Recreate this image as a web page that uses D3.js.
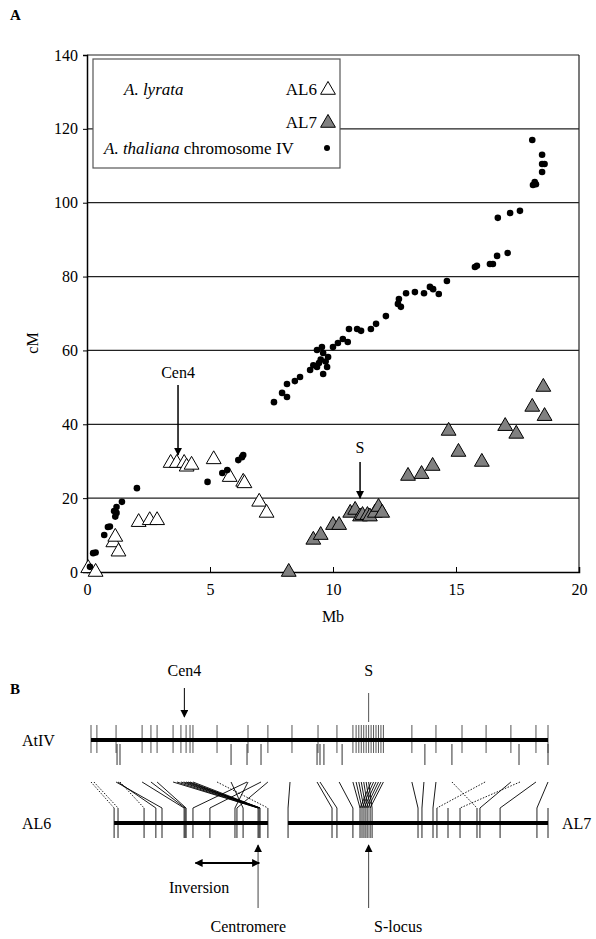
<!DOCTYPE html>
<html>
<head>
<meta charset="utf-8">
<script src="https://cdn.jsdelivr.net/npm/d3@7"></script>
<style>
  body { margin: 0; background: #fff; }
  text { font-family: "Liberation Serif", "Times New Roman", serif; fill: #000; }
</style>
</head>
<body>
<div id="fig"></div>
<script>
// ---- panel A data: [Mb, cM] ----
const thaliana = [
  [0.12, 1.4], [0.25, 5.1], [0.35, 5.3], [0.7, 10], [0.85, 12.2], [0.93, 12.3],
  [1.1, 16.5], [1.15, 15], [1.2, 16], [1.2, 17.6], [1.42, 19], [2.03, 22.7],
  [4.9, 24.4], [5.5, 26.8], [5.7, 27.6], [6.15, 30.3], [6.3, 31.1], [6.35, 31.7],
  [7.6, 46], [7.93, 48.5], [8.13, 47.4], [8.13, 50.9], [8.45, 51.7], [8.66, 52.8],
  [9.07, 54.7], [9.2, 56], [9.35, 55.5], [9.43, 56.6], [9.6, 53.6], [9.76, 55.5],
  [9.8, 58.2], [9.6, 59.3], [9.35, 60.1], [9.55, 60.9], [9.7, 57], [9.5, 57.5],
  [10.0, 60.9], [10.2, 62], [10.4, 63.1], [10.6, 62.3], [10.65, 65.8], [10.98, 65.8],
  [11.14, 65.3], [11.54, 65.8], [11.75, 67.2], [12.15, 69.3], [12.64, 72.6],
  [12.76, 71.8], [12.68, 73.9], [12.97, 75.5], [13.33, 75.8], [13.7, 75.5],
  [13.94, 77.2], [14.07, 76.6], [14.3, 75.3], [14.63, 78.8], [15.77, 82.6],
  [15.85, 82.9], [16.38, 83.4], [16.5, 83.4], [16.67, 85.6], [17.1, 86.4],
  [16.7, 95.9], [17.2, 97.2], [17.6, 97.8], [18.13, 104.8], [18.25, 105],
  [18.2, 105.6], [18.5, 108.3], [18.5, 110.5], [18.6, 110.5], [18.5, 113], [18.1, 117]
];
const al6 = [
  [0.05, 1], [0.35, 0], [1.07, 8], [1.15, 9.5], [1.28, 5.5], [2.1, 13.5],
  [2.55, 14], [2.85, 14], [3.4, 29.5], [3.65, 29.5], [3.95, 29.5], [4.05, 28.5],
  [4.25, 29], [5.15, 30.5], [5.8, 25.7], [6.35, 24.4], [6.4, 24], [7.0, 19], [7.3, 16]
];
const al7 = [
  [8.2, 0], [9.2, 8.7], [9.5, 10], [10.0, 12.7], [10.25, 12.7], [10.7, 16],
  [10.9, 16.8], [11.1, 15], [11.2, 15.4], [11.4, 15.4], [11.5, 15], [11.7, 16],
  [11.85, 17.6], [12.0, 16], [13.05, 26], [13.6, 26.5], [14.05, 28.7], [14.7, 38.2],
  [15.1, 32.5], [16.05, 29.8], [17.0, 39.5], [17.45, 37.4], [18.1, 44.7],
  [18.55, 50.1], [18.6, 42.2]
];
const xTicksA = [0, 5, 10, 15, 20];
const yTicksA = [0, 20, 40, 60, 80, 100, 120, 140];
const cen4Mb = 3.7, sMb = 11.1;

// ---- panel B data (positions in Mb along AtIV) ----
const atIVTicks = [0, 0.24, 1.02, 2.08, 2.44, 2.69, 3.34, 3.66, 3.87, 4.03, 4.15, 5.13,
  6.39, 7.2, 8.18, 9.24, 10.01, 10.66, 10.79, 10.9, 11.0, 11.1, 11.2, 11.3, 11.4,
  11.5, 11.6, 11.7, 11.8, 11.9, 13.06, 14.04, 15.1, 16.08, 17.09, 18.11, 18.6];
const atIVLong = [1.06, 1.18, 5.7, 6.35, 6.92, 9.2, 9.32, 9.48, 10.22, 13.59, 14.69, 17.42, 18.6];
const al6Range = [0.94, 7.2];
const al7Range = [8.02, 18.6];
const al6Ticks = [0.94, 1.1, 2.16, 2.64, 2.89, 3.79, 3.83, 3.87, 4.15, 4.84, 5.86, 5.94,
  6.19, 6.8, 6.84, 6.88, 7.2];
const al7Ticks = [8.02, 9.81, 10.01, 10.66, 10.95, 11.03, 11.11, 11.19, 11.27, 11.36,
  11.44, 13.31, 13.47, 13.92, 14.08, 14.53, 15.02, 15.71, 15.83, 16.65, 18.15, 18.6];
// [AtIV position, AL position, dotted]
const links = [
  [0.0, 0.94, 1], [0.12, 1.1, 1], [1.02, 2.89, 0], [1.1, 2.64, 0], [1.18, 2.16, 1],
  [2.08, 3.79, 0], [2.44, 3.83, 0], [2.69, 3.87, 0],
  [3.34, 6.8, 0], [3.5, 6.8, 0], [3.66, 6.84, 0], [3.77, 6.84, 0], [3.87, 6.88, 0],
  [3.95, 6.88, 0], [4.03, 6.84, 0], [4.15, 6.88, 0],
  [5.13, 7.2, 1], [5.7, 6.19, 0], [6.35, 4.15, 0], [6.39, 5.86, 0], [6.92, 4.84, 0], [7.2, 5.94, 0],
  [8.1, 8.02, 0], [9.2, 9.81, 0], [9.32, 10.01, 0], [10.1, 10.66, 0],
  [10.66, 10.95, 0], [10.79, 11.03, 0], [10.9, 11.11, 0], [11.0, 11.19, 0], [11.1, 11.27, 0],
  [11.2, 11.36, 0], [11.3, 11.44, 0], [11.4, 10.95, 0], [11.5, 11.03, 0], [11.6, 11.11, 0],
  [11.7, 11.19, 0], [11.8, 11.27, 0], [11.9, 11.36, 0],
  [13.06, 13.31, 0], [13.55, 13.47, 0], [14.04, 13.92, 0],
  [14.69, 15.71, 1], [16.04, 14.08, 1], [17.09, 15.83, 0], [17.46, 15.02, 1],
  [18.11, 16.65, 0], [18.6, 18.15, 0]
];

const W = 596, H = 939;
const svg = d3.select("#fig").append("svg").attr("width", W).attr("height", H);

// ================= Panel A =================
const x = d3.scaleLinear().domain([0, 20]).range([87, 579]);
const y = d3.scaleLinear().domain([0, 140]).range([572, 55]);

svg.append("text").attr("x", 10).attr("y", 20).attr("font-size", 15)
  .attr("font-weight", "bold").text("A");

// grid
svg.append("g").selectAll("line").data(yTicksA.slice(1)).enter().append("line")
  .attr("x1", x(0)).attr("x2", x(20))
  .attr("y1", d => y(d)).attr("y2", d => y(d))
  .attr("stroke", "#222").attr("stroke-width", 1.2);
// right border
svg.append("line").attr("x1", x(20)).attr("x2", x(20)).attr("y1", y(0)).attr("y2", y(140))
  .attr("stroke", "#222").attr("stroke-width", 1.2);

const yAxis = svg.append("g").attr("transform", "translate(" + x(0) + ",0)")
  .call(d3.axisLeft(y).tickValues(yTicksA).tickSize(4).tickPadding(5));
const xAxis = svg.append("g").attr("transform", "translate(0," + y(0) + ")")
  .call(d3.axisBottom(x).tickValues(xTicksA).tickSize(-5).tickPadding(12));
[xAxis, yAxis].forEach(a => {
  a.select(".domain").attr("stroke", "#000").attr("stroke-width", 1.5);
  a.selectAll("text").attr("font-size", 16).attr("font-family", "Liberation Serif");
  a.selectAll(".tick line").attr("stroke", "#000");
});

svg.append("text").attr("x", x(10)).attr("y", 622).attr("text-anchor", "middle")
  .attr("font-size", 16).text("Mb");
svg.append("text").attr("transform", "translate(38," + y(62) + ") rotate(-90)")
  .attr("text-anchor", "middle").attr("font-size", 16).text("cM");

// legend box
const leg = svg.append("g");
leg.append("rect").attr("x", 93).attr("y", 59).attr("width", 247).attr("height", 109)
  .attr("fill", "#fff").attr("stroke", "#555").attr("stroke-width", 1.2);
const lt1 = leg.append("text").attr("x", 124).attr("y", 95).attr("font-size", 17);
lt1.append("tspan").attr("font-style", "italic").text("A. lyrata");
leg.append("text").attr("x", 317).attr("y", 95).attr("text-anchor", "end")
  .attr("font-size", 17).text("AL6");
leg.append("text").attr("x", 317).attr("y", 128).attr("text-anchor", "end")
  .attr("font-size", 17).text("AL7");
const lt3 = leg.append("text").attr("x", 104).attr("y", 154).attr("font-size", 17);
lt3.append("tspan").attr("font-style", "italic").text("A. thaliana");
lt3.append("tspan").text(" chromosome IV");

const tri = d3.symbol().type(d3.symbolTriangle).size(95);
leg.append("path").attr("d", tri).attr("transform", "translate(328,90)")
  .attr("fill", "#fff").attr("stroke", "#000").attr("stroke-width", 1);
leg.append("path").attr("d", tri).attr("transform", "translate(328,123)")
  .attr("fill", "#808080").attr("stroke", "#000").attr("stroke-width", 1);
leg.append("circle").attr("cx", 327).attr("cy", 148).attr("r", 3)
  .attr("fill", "#000");

// data marks
svg.append("g").selectAll("path").data(al6).enter().append("path")
  .attr("d", tri).attr("transform", d => "translate(" + x(d[0]) + "," + y(d[1]) + ")")
  .attr("fill", "#fff").attr("stroke", "#000").attr("stroke-width", 1);
svg.append("g").selectAll("path").data(al7).enter().append("path")
  .attr("d", tri).attr("transform", d => "translate(" + x(d[0]) + "," + y(d[1]) + ")")
  .attr("fill", "#808080").attr("stroke", "#000").attr("stroke-width", 1);
svg.append("g").selectAll("circle").data(thaliana).enter().append("circle")
  .attr("cx", d => x(d[0])).attr("cy", d => y(d[1])).attr("r", 3.3).attr("fill", "#000");

// arrow marker
const defs = svg.append("defs");
defs.append("marker").attr("id", "ah").attr("viewBox", "0 0 10 10")
  .attr("refX", 9).attr("refY", 5).attr("markerWidth", 8).attr("markerHeight", 8)
  .attr("markerUnits", "userSpaceOnUse").attr("orient", "auto-start-reverse")
  .append("path").attr("d", "M0,0 L10,5 L0,10 z").attr("fill", "#000");

function arrow(x1, y1, x2, y2, opts) {
  const l = svg.append("line").attr("x1", x1).attr("y1", y1).attr("x2", x2).attr("y2", y2)
    .attr("stroke", (opts && opts.color) || "#000").attr("stroke-width", (opts && opts.w) || 1.5)
    .attr("marker-end", "url(#ah)");
  if (opts && opts.both) l.attr("marker-start", "url(#ah)");
  return l;
}
arrow(x(cen4Mb), 385, x(cen4Mb), 455);
svg.append("text").attr("x", x(cen4Mb)).attr("y", 378).attr("text-anchor", "middle")
  .attr("font-size", 16).text("Cen4");
arrow(x(sMb), 462, x(sMb), y(20));
svg.append("text").attr("x", x(sMb)).attr("y", 453).attr("text-anchor", "middle")
  .attr("font-size", 16).text("S");

// ================= Panel B =================
const xb = d3.scaleLinear().domain([0, 18.6]).range([91, 548]);
const yAt = 740, yAl = 823;

svg.append("text").attr("x", 10).attr("y", 694).attr("font-size", 15)
  .attr("font-weight", "bold").text("B");

const gb = svg.append("g");
// AtIV ticks
gb.selectAll(".at").data(atIVTicks).enter().append("line")
  .attr("x1", d => xb(d)).attr("x2", d => xb(d)).attr("y1", 725).attr("y2", 753)
  .attr("stroke", "#555").attr("stroke-width", 1);
gb.selectAll(".atl").data(atIVLong).enter().append("line")
  .attr("x1", d => xb(d)).attr("x2", d => xb(d)).attr("y1", 744).attr("y2", 765)
  .attr("stroke", "#333").attr("stroke-width", 1);
gb.append("line").attr("x1", xb(0)).attr("x2", xb(18.6)).attr("y1", yAt).attr("y2", yAt)
  .attr("stroke", "#000").attr("stroke-width", 4);

// links
gb.selectAll(".lk").data(links).enter().append("line")
  .attr("x1", d => xb(d[0])).attr("y1", 782).attr("x2", d => xb(d[1])).attr("y2", 808)
  .attr("stroke", "#000").attr("stroke-width", 0.9)
  .attr("stroke-dasharray", d => d[2] ? "1.5,1.5" : null);

// AL ticks and bars
gb.selectAll(".a6").data(al6Ticks.concat(al7Ticks)).enter().append("line")
  .attr("x1", d => xb(d)).attr("x2", d => xb(d)).attr("y1", 808).attr("y2", 838)
  .attr("stroke", "#222").attr("stroke-width", 1);
[al6Range, al7Range].forEach(r => {
  gb.append("line").attr("x1", xb(r[0])).attr("x2", xb(r[1])).attr("y1", yAl).attr("y2", yAl)
    .attr("stroke", "#000").attr("stroke-width", 4);
});

svg.append("text").attr("x", 22).attr("y", 746).attr("font-size", 16).text("AtIV");
svg.append("text").attr("x", 22).attr("y", 829).attr("font-size", 16).text("AL6");
svg.append("text").attr("x", 562).attr("y", 829).attr("font-size", 16).text("AL7");

// top labels
arrow(xb(3.8), 688, xb(3.8), 717, { w: 1 });
svg.append("text").attr("x", xb(3.8)).attr("y", 676).attr("text-anchor", "middle")
  .attr("font-size", 16).text("Cen4");
svg.append("line").attr("x1", xb(11.3)).attr("x2", xb(11.3)).attr("y1", 693).attr("y2", 722)
  .attr("stroke", "#555").attr("stroke-width", 1);
svg.append("text").attr("x", xb(11.3)).attr("y", 676).attr("text-anchor", "middle")
  .attr("font-size", 16).text("S");

// bottom annotations
arrow(xb(6.8), 908, xb(6.8), 845, { w: 1, color: "#444" });
arrow(xb(6.85), 863, xb(4.25), 863, { w: 2, both: true });
svg.append("text").attr("x", xb(4.4)).attr("y", 893).attr("text-anchor", "middle")
  .attr("font-size", 16).text("Inversion");
svg.append("text").attr("x", xb(6.4)).attr("y", 932).attr("text-anchor", "middle")
  .attr("font-size", 16).text("Centromere");
arrow(xb(11.3), 908, xb(11.3), 845, { w: 1, color: "#444" });
svg.append("text").attr("x", xb(12.5)).attr("y", 932).attr("text-anchor", "middle")
  .attr("font-size", 16).text("S-locus");
</script>
</body>
</html>
